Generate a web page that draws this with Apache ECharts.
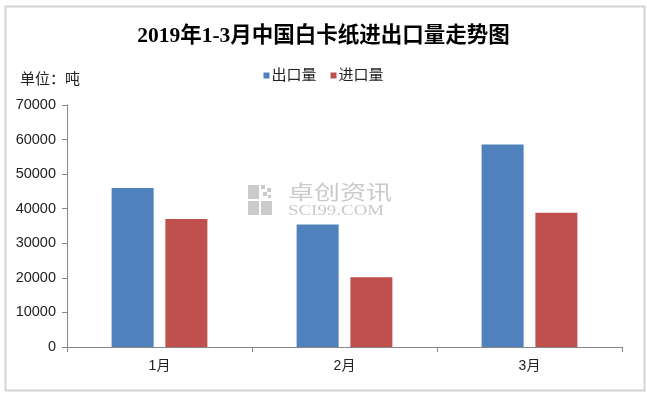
<!DOCTYPE html>
<html>
<head>
<meta charset="utf-8">
<script src="https://cdn.jsdelivr.net/npm/echarts@6/dist/echarts.min.js"></script>
<style>
html,body{margin:0;padding:0;background:#fff;}
#c{width:647px;height:393px;}
</style>
</head>
<body>
<div id="c"></div>
<script>
var categories = ['1月', '2月', '3月'];
var exportValues = [46000, 35400, 58600];
var importValues = [37000, 20200, 38800];
var seriesNames = ['出口量', '进口量'];
var yTicks = [0, 10000, 20000, 30000, 40000, 50000, 60000, 70000];

var chart = echarts.init(document.getElementById('c'), null, {renderer: 'canvas'});
var font = '"Liberation Sans", Arial, "Noto Sans CJK SC", sans-serif';
var wm = '#cacaca';
chart.setOption({
  backgroundColor: '#ffffff',
  animation: false,
  title: {
    text: '2019年1-3月中国白卡纸进出口量走势图',
    left: 'center',
    top: 21,
    textStyle: {
      fontFamily: '"Liberation Serif", "Times New Roman", "Noto Sans CJK SC", serif',
      fontSize: 21.5,
      fontWeight: 'bold',
      color: '#000'
    }
  },
  legend: {
    data: seriesNames,
    top: 63,
    left: 'center',
    itemWidth: 6,
    itemHeight: 6,
    itemGap: 14,
    icon: 'rect',
    textStyle: {fontFamily: font, fontSize: 15, color: '#222', padding: [0, 0, 0, -3]}
  },
  grid: {left: 67, right: 25, top: 105, bottom: 46, containLabel: false},
  xAxis: {
    type: 'category',
    data: categories,
    axisLine: {lineStyle: {color: '#868686', width: 1}},
    axisTick: {show: true, length: 5, inside: false, lineStyle: {color: '#868686'}},
    axisLabel: {fontFamily: font, fontSize: 14, color: '#222', margin: 12}
  },
  yAxis: {
    type: 'value',
    min: yTicks[0],
    max: yTicks[yTicks.length - 1],
    interval: 10000,
    axisLine: {show: true, lineStyle: {color: '#868686', width: 1}},
    axisTick: {show: true, length: 5, lineStyle: {color: '#868686'}},
    splitLine: {show: false},
    axisLabel: {fontFamily: font, fontSize: 14.5, color: '#222', margin: 11, formatter: function (v) { return String(v); }}
  },
  series: [
    {
      name: seriesNames[0],
      type: 'bar',
      data: exportValues,
      barWidth: 42,
      barGap: '28%',
      itemStyle: {color: '#4f81bd'}
    },
    {
      name: seriesNames[1],
      type: 'bar',
      data: importValues,
      barWidth: 42,
      barGap: '28%',
      itemStyle: {color: '#c0504d'}
    }
  ],
  graphic: [
    {type: 'rect', left: 3, top: 4, shape: {width: 639, height: 384}, style: {fill: 'none', stroke: '#d4d4d4', lineWidth: 2}, z: 100},
    {type: 'text', left: 20, top: 71, style: {text: '单位：吨', font: '15px "Noto Sans CJK SC", sans-serif', fill: '#222'}},
    {type: 'group', left: 248, top: 182, z: -1, children: [
      {type: 'rect', shape: {x: 0, y: 0, width: 11, height: 14}, style: {fill: wm}},
      {type: 'rect', shape: {x: 0, y: 16, width: 11, height: 14}, style: {fill: wm}},
      {type: 'rect', shape: {x: 13, y: 16, width: 11, height: 14}, style: {fill: wm}},
      {type: 'rect', shape: {x: 13, y: 0, width: 4, height: 4}, style: {fill: wm}},
      {type: 'rect', shape: {x: 19, y: 3, width: 4, height: 4}, style: {fill: wm}},
      {type: 'rect', shape: {x: 15, y: 7, width: 4, height: 4}, style: {fill: wm}},
      {type: 'rect', shape: {x: 20, y: 10, width: 3, height: 3}, style: {fill: wm}},
      {type: 'text', x: 40, y: -3, scaleX: 1.3, style: {text: '卓创资讯', font: '20px "Noto Sans CJK SC", sans-serif', fill: wm}},
      {type: 'text', x: 40, y: 19, scaleX: 1.35, style: {text: 'SCI99.COM', font: '14px "Liberation Serif", serif', fill: wm}}
    ]}
  ]
});
</script>
</body>
</html>
